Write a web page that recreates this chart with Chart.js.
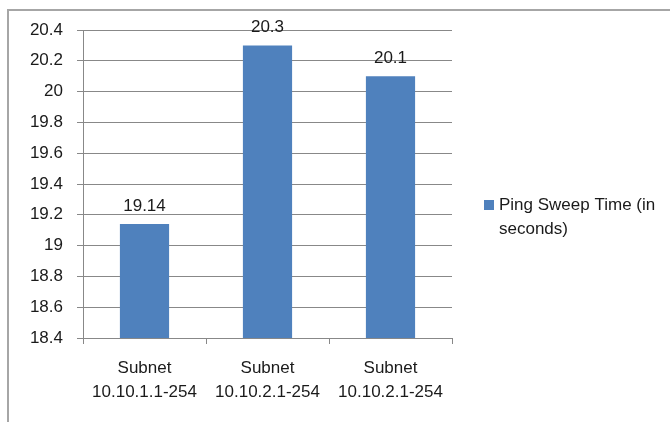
<!DOCTYPE html>
<html>
<head>
<meta charset="utf-8">
<script src="https://cdn.jsdelivr.net/npm/chart.js@4.4.1/dist/chart.umd.min.js"></script>
<style>
  html, body { margin: 0; padding: 0; background: #fff; }
  #c { display: block; }
</style>
</head>
<body>
<canvas id="c" width="670" height="422"></canvas>
<script>
// Sweep results per subnet
const categories = [
  ["Subnet", "10.10.1.1-254"],
  ["Subnet", "10.10.2.1-254"],
  ["Subnet", "10.10.2.1-254"]
];
const sweepTimes = [19.14, 20.3, 20.1];
const seriesName = "Ping Sweep Time (in seconds)";
const legendLines = ["Ping Sweep Time (in", "seconds)"];
const yTicks = [18.4, 18.6, 18.8, 19, 19.2, 19.4, 19.6, 19.8, 20, 20.2, 20.4];

const FONT = "'Liberation Sans', Arial, sans-serif";
const TEXT = "#1a1a1a";
const GRID = "#888888";
const BAR = "#4F81BD";

// Outer frame (top and left edges)
const framePlugin = {
  id: "frame",
  beforeDraw(chart) {
    const ctx = chart.ctx;
    ctx.save();
    ctx.fillStyle = "#fff";
    ctx.fillRect(0, 0, chart.width, chart.height);
    ctx.strokeStyle = "#a6a6a6";
    ctx.lineWidth = 2;
    ctx.beginPath();
    ctx.moveTo(8, chart.height);
    ctx.lineTo(8, 10);
    ctx.lineTo(chart.width, 10);
    ctx.stroke();
    ctx.restore();
  }
};

// Value labels above each bar
const valueLabels = {
  id: "valueLabels",
  afterDatasetsDraw(chart) {
    const ctx = chart.ctx;
    const meta = chart.getDatasetMeta(0);
    ctx.save();
    ctx.font = "17px " + FONT;
    ctx.fillStyle = TEXT;
    ctx.textAlign = "center";
    ctx.textBaseline = "alphabetic";
    meta.data.forEach((bar, i) => {
      ctx.fillText(String(chart.data.datasets[0].data[i]), bar.x, bar.y - 13.5);
    });
    ctx.restore();
  }
};

// Legend on the right, wrapped over two lines
const sideLegend = {
  id: "sideLegend",
  afterDraw(chart) {
    const ctx = chart.ctx;
    const area = chart.chartArea;
    const x = area.right + 32;
    const y = 205;
    ctx.save();
    ctx.fillStyle = chart.data.datasets[0].backgroundColor;
    ctx.fillRect(x, y - 5, 10, 10);
    ctx.font = "17px " + FONT;
    ctx.fillStyle = TEXT;
    ctx.textAlign = "left";
    ctx.textBaseline = "middle";
    legendLines.forEach((line, i) => ctx.fillText(line, x + 15, y + i * 24));
    ctx.restore();
  }
};

new Chart(document.getElementById("c"), {
  type: "bar",
  data: {
    labels: categories,
    datasets: [{
      label: seriesName,
      data: sweepTimes,
      backgroundColor: BAR,
      borderWidth: 0,
      categoryPercentage: 1,
      barPercentage: 0.4
    }]
  },
  options: {
    responsive: false,
    animation: false,
    devicePixelRatio: 1,
    layout: { padding: { top: 30, right: 218, left: 0, bottom: 0 } },
    plugins: { legend: { display: false }, tooltip: { enabled: false } },
    scales: {
      x: {
        grid: { offset: true, drawOnChartArea: false, tickLength: 6, color: GRID },
        border: { color: GRID },
        ticks: {
          padding: 12,
          color: TEXT,
          maxRotation: 0,
          autoSkip: false,
          font: { family: FONT, size: 17, lineHeight: "24px" }
        },
        afterFit(scale) { scale.height = 84; }
      },
      y: {
        min: 18.4,
        max: 20.4,
        grid: { color: GRID, tickLength: 6 },
        border: { color: GRID },
        afterBuildTicks(scale) { scale.ticks = yTicks.map(v => ({ value: v })); },
        ticks: {
          padding: 14,
          color: TEXT,
          font: { family: FONT, size: 17 },
          callback: v => String(Math.round(v * 10) / 10)
        },
        afterFit(scale) { scale.width = 83; }
      }
    }
  },
  plugins: [framePlugin, valueLabels, sideLegend]
});
</script>
</body>
</html>
